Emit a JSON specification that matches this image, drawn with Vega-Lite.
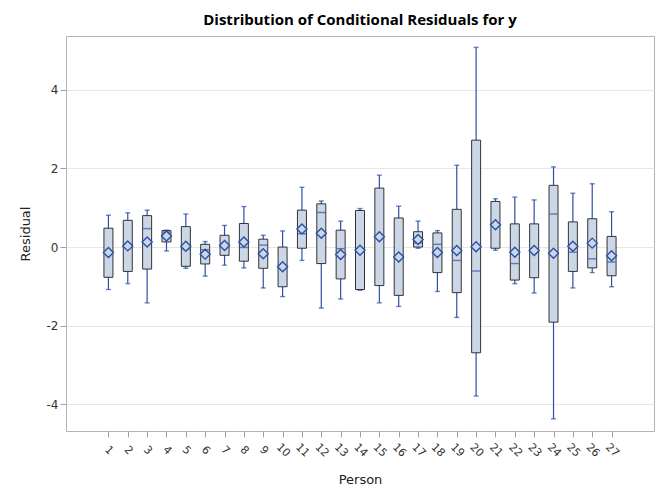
{
  "$schema": "https://vega.github.io/schema/vega-lite/v6.json",
  "width": 588,
  "height": 395,
  "autosize": {"type": "none"},
  "padding": {"left": 66, "top": 36, "right": 12, "bottom": 69},
  "background": "white",
  "title": {"text": "Distribution of Conditional Residuals for y", "font": "Open Sans", "fontSize": 15, "fontWeight": "bold", "color": "black", "offset": 8, "anchor": "middle"},
  "config": {
    "view": {"stroke": "#b4b4b4", "strokeWidth": 1},
    "axis": {"labelFont": "DejaVu Sans", "titleFont": "DejaVu Sans", "labelColor": "#333", "titleColor": "#222", "labelFontSize": 11, "titleFontSize": 13, "titleFontWeight": "normal", "domainColor": "#b4b4b4", "tickColor": "#a0a0a0", "tickSize": 6}
  },
  "data": {"values": [
    {"Person": 1, "min": -1.08, "q1": -0.77, "median": -0.15, "q3": 0.48, "max": 0.81, "mean": -0.14},
    {"Person": 2, "min": -0.93, "q1": -0.62, "median": 0.02, "q3": 0.68, "max": 0.87, "mean": 0.03},
    {"Person": 3, "min": -1.42, "q1": -0.56, "median": 0.47, "q3": 0.80, "max": 0.94, "mean": 0.13},
    {"Person": 4, "min": -0.10, "q1": 0.13, "median": 0.38, "q3": 0.42, "max": 0.43, "mean": 0.28},
    {"Person": 5, "min": -0.54, "q1": -0.49, "median": -0.05, "q3": 0.52, "max": 0.84, "mean": 0.02},
    {"Person": 6, "min": -0.74, "q1": -0.43, "median": -0.07, "q3": 0.07, "max": 0.14, "mean": -0.18},
    {"Person": 7, "min": -0.46, "q1": -0.21, "median": 0.06, "q3": 0.30, "max": 0.55, "mean": 0.04},
    {"Person": 8, "min": -0.53, "q1": -0.36, "median": -0.01, "q3": 0.60, "max": 1.03, "mean": 0.13},
    {"Person": 9, "min": -1.04, "q1": -0.54, "median": 0.05, "q3": 0.20, "max": 0.30, "mean": -0.17},
    {"Person": 10, "min": -1.26, "q1": -1.01, "median": -0.52, "q3": 0.0, "max": 0.41, "mean": -0.50},
    {"Person": 11, "min": -0.34, "q1": -0.03, "median": 0.34, "q3": 0.94, "max": 1.52, "mean": 0.46},
    {"Person": 12, "min": -1.55, "q1": -0.42, "median": 0.88, "q3": 1.10, "max": 1.17, "mean": 0.35},
    {"Person": 13, "min": -1.32, "q1": -0.81, "median": -0.04, "q3": 0.43, "max": 0.66, "mean": -0.19},
    {"Person": 14, "min": -1.10, "q1": -1.08, "median": -0.08, "q3": 0.93, "max": 0.98, "mean": -0.08},
    {"Person": 15, "min": -1.42, "q1": -0.98, "median": 0.26, "q3": 1.50, "max": 1.83, "mean": 0.26},
    {"Person": 16, "min": -1.51, "q1": -1.23, "median": -0.25, "q3": 0.74, "max": 1.04, "mean": -0.25},
    {"Person": 17, "min": -0.03, "q1": 0.0, "median": 0.10, "q3": 0.39, "max": 0.66, "mean": 0.19},
    {"Person": 18, "min": -1.13, "q1": -0.65, "median": 0.07, "q3": 0.36, "max": 0.42, "mean": -0.14},
    {"Person": 19, "min": -1.79, "q1": -1.16, "median": -0.34, "q3": 0.96, "max": 2.08, "mean": -0.09},
    {"Person": 20, "min": -3.79, "q1": -2.69, "median": -0.61, "q3": 2.72, "max": 5.08, "mean": 0.01},
    {"Person": 21, "min": -0.08, "q1": -0.03, "median": 0.59, "q3": 1.16, "max": 1.23, "mean": 0.57},
    {"Person": 22, "min": -0.93, "q1": -0.84, "median": -0.42, "q3": 0.59, "max": 1.27, "mean": -0.13},
    {"Person": 23, "min": -1.17, "q1": -0.78, "median": -0.11, "q3": 0.59, "max": 1.20, "mean": -0.09},
    {"Person": 24, "min": -4.37, "q1": -1.91, "median": 0.84, "q3": 1.57, "max": 2.04, "mean": -0.16},
    {"Person": 25, "min": -1.04, "q1": -0.62, "median": -0.13, "q3": 0.64, "max": 1.37, "mean": 0.02},
    {"Person": 26, "min": -0.65, "q1": -0.53, "median": -0.30, "q3": 0.72, "max": 1.61, "mean": 0.10},
    {"Person": 27, "min": -1.01, "q1": -0.73, "median": -0.38, "q3": 0.27, "max": 0.90, "mean": -0.22}
  ]},
  "encoding": {
    "x": {"field": "Person", "type": "quantitative",
      "scale": {"domain": [-0.934, 28.934], "nice": false, "zero": false},
      "axis": {"title": "Person", "values": [1,2,3,4,5,6,7,8,9,10,11,12,13,14,15,16,17,18,19,20,21,22,23,24,25,26,27], "format": "d", "labelAngle": 45, "labelAlign": "center", "labelBaseline": "middle", "labelPadding": 13, "labelOverlap": false, "labelFlush": false, "domain": false, "titlePadding": 15, "grid": false}
    }
  },
  "layer": [
    {"mark": {"type": "rule", "color": "#2a50a8", "strokeWidth": 1.2},
     "encoding": {
       "y": {"field": "min", "type": "quantitative",
         "scale": {"domain": [-4.68, 5.37], "nice": false, "zero": false},
         "axis": {"title": "Residual", "values": [-4, -2, 0, 2, 4], "labelExpr": "replace(datum.label, '\u2212', '-')", "grid": true, "gridColor": "#e6e6e6", "labelFontSize": 12, "titlePadding": 14, "domain": false}},
       "y2": {"field": "max"}}},
    {"mark": {"type": "tick", "orient": "horizontal", "color": "#2a50a8", "size": 5, "thickness": 1.4},
     "encoding": {"y": {"field": "min", "type": "quantitative"}}},
    {"mark": {"type": "tick", "orient": "horizontal", "color": "#2a50a8", "size": 5, "thickness": 1.4},
     "encoding": {"y": {"field": "max", "type": "quantitative"}}},
    {"mark": {"type": "bar", "fill": "#cbd6e6", "stroke": "#333333", "strokeWidth": 1, "size": 9},
     "encoding": {"y": {"field": "q1", "type": "quantitative"}, "y2": {"field": "q3"}}},
    {"mark": {"type": "tick", "orient": "horizontal", "color": "#2a50a8", "size": 8, "thickness": 1.4},
     "encoding": {"y": {"field": "median", "type": "quantitative"}}},
    {"mark": {"type": "point", "shape": "diamond", "filled": false, "fill": "#cbd6e6", "fillOpacity": 1, "stroke": "#2a50a8", "strokeWidth": 1.4, "size": 100, "opacity": 1},
     "encoding": {"y": {"field": "mean", "type": "quantitative"}}}
  ]
}
